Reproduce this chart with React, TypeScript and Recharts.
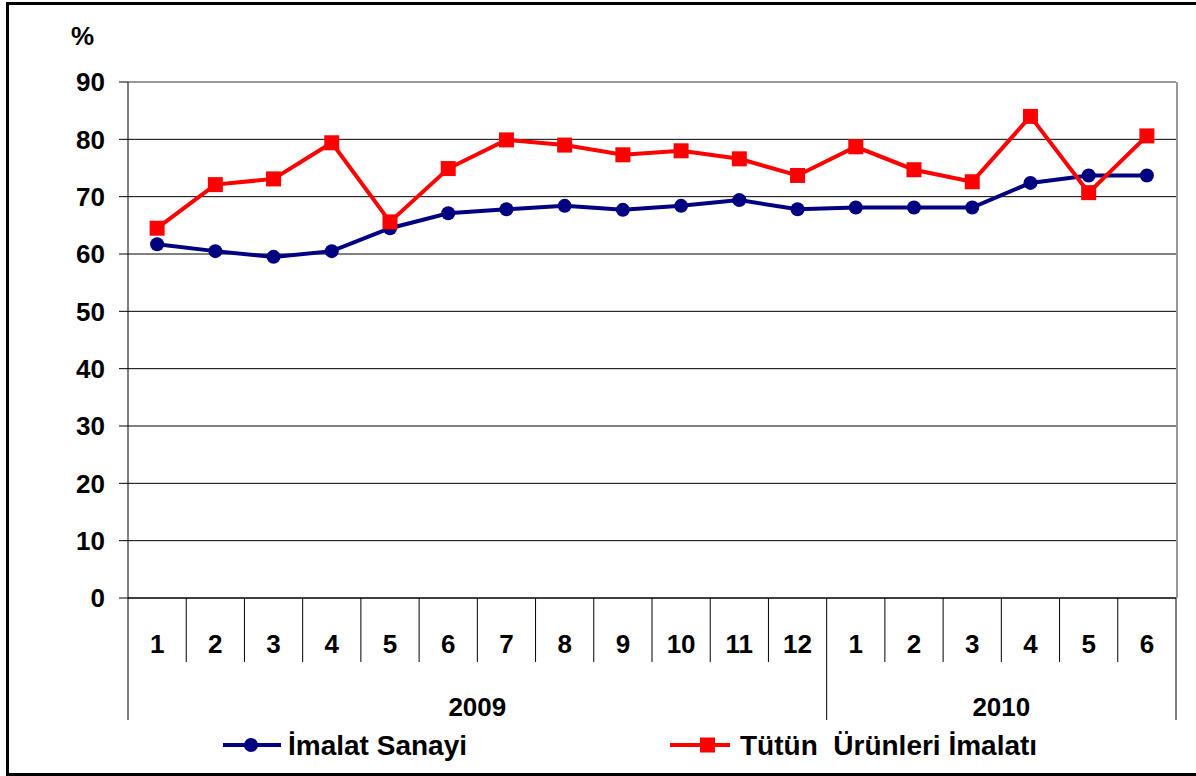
import { CartesianGrid, Label, Legend, Line, LineChart, ReferenceLine, XAxis, YAxis } from "recharts";

const months = ["1", "2", "3", "4", "5", "6", "7", "8", "9", "10", "11", "12", "1", "2", "3", "4", "5", "6"];
const years = ["2009", "2010"];
const yearCounts = [12, 6];
const imalat = [61.7, 60.5, 59.5, 60.5, 64.5, 67.1, 67.8, 68.4, 67.7, 68.4, 69.4, 67.8, 68.1, 68.1, 68.1, 72.4, 73.7, 73.7];
const tutun = [64.5, 72.1, 73.1, 79.4, 65.6, 74.9, 79.9, 79.0, 77.3, 78.0, 76.6, 73.7, 78.7, 74.7, 72.6, 84.0, 70.7, 80.6];
const yTicks = [0, 10, 20, 30, 40, 50, 60, 70, 80, 90];

const data = months.map((m, i) => ({ idx: i, month: m, imalat: imalat[i], tutun: tutun[i] }));

const FONT = '"Liberation Sans", Arial, sans-serif';
const BLUE = "#000080";
const RED = "#ff0000";
const PLOT_TOP = 82;
const HALF = 1048 / 18 / 2;

// where each year group starts/ends
const yearStarts = yearCounts.map((_, k) => yearCounts.slice(0, k).reduce((a, b) => a + b, 0));
const yearEnds = yearStarts.map((s, k) => s + yearCounts[k] - 1);

const MonthTick = (props: any) => {
  const { x, y, payload } = props;
  const i = props.index ?? payload.index;
  const half = HALF;
  const last = i === months.length - 1;
  return (
    <g>
      <text x={x} y={y + 55} textAnchor="middle" fill="#000" fontSize={26} fontWeight="bold" fontFamily={FONT}>
        {months[i]}
      </text>
      {!yearEnds.includes(i) && <line x1={x + half} x2={x + half} y1={y} y2={y + 64} stroke="#000" />}
      {last && <line x1={x + half + 1} x2={x + half + 1} y1={PLOT_TOP} y2={y} stroke="#999" strokeWidth={2} />}
    </g>
  );
};

const YearTick = (props: any) => {
  const { x, y, payload } = props;
  const i = props.index ?? payload.index;
  const half = HALF;
  const out: any[] = [];
  if (i === 0) out.push(<line key="s" x1={x - half} x2={x - half} y1={y - 64} y2={y + 58} stroke="#000" />);
  if (yearEnds.includes(i)) out.push(<line key="e" x1={x + half} x2={x + half} y1={y - 64} y2={y + 58} stroke="#000" />);
  years.forEach((yr, k) => {
    const mid = (yearCounts[k] - 1) / 2;
    const at = yearStarts[k] + Math.floor(mid);
    if (at === i) {
      const shift = (mid - Math.floor(mid)) * 2 * half;
      out.push(
        <text key={yr} x={x + shift} y={y + 54} textAnchor="middle" fill="#000" fontSize={26} fontWeight="bold" fontFamily={FONT}>
          {yr}
        </text>
      );
    }
  });
  return <g>{out}</g>;
};

const Square = (props: any) => {
  const { cx, cy, index } = props;
  return <rect key={`sq-${index}`} x={cx - 7.5} y={cy - 7.5} width={15} height={15} fill={RED} />;
};

const LegendBox = () => (
  <svg width={1196} height={40} style={{ display: "block" }}>
    <line x1={223} x2={281} y1={20} y2={20} stroke={BLUE} strokeWidth={4} />
    <circle cx={251} cy={20} r={7} fill={BLUE} />
    <text x={288} y={30} fill="#000" fontSize={28} fontWeight="bold" fontFamily={FONT}>
      İmalat Sanayi
    </text>
    <line x1={670} x2={730} y1={20} y2={20} stroke={RED} strokeWidth={4} />
    <rect x={700} y={12.5} width={15} height={15} fill={RED} />
    <text x={740} y={30} fill="#000" fontSize={28} fontWeight="bold" fontFamily={FONT} style={{ whiteSpace: "pre" }}>
      {"Tütün  Ürünleri İmalatı"}
    </text>
  </svg>
);

export default function App() {
  return (
    <div style={{ position: "absolute", left: 0, top: 0, width: 1196, height: 776, overflow: "hidden", background: "#fff" }}>
      <div
        style={{
          position: "absolute",
          left: 6,
          top: 2,
          width: 1210,
          height: 774,
          border: "3px solid #000",
          boxSizing: "border-box",
        }}
      />
      <div style={{ position: "absolute", left: 0, top: 0 }}>
        <LineChart width={1196} height={776} data={data} margin={{ top: PLOT_TOP, right: 20, left: 68, bottom: 58 }}>
          <CartesianGrid horizontal vertical={false} stroke="#000" strokeOpacity={1} />
          <ReferenceLine y={90} stroke="#999" strokeWidth={2} />
          <XAxis
            dataKey="idx"
            scale="band"
            interval={0}
            height={64}
            tickLine={false}
            tickSize={0}
            tickMargin={0}
            axisLine={{ stroke: "#000" }}
            tick={<MonthTick />}
          />
          <XAxis
            xAxisId="year"
            dataKey="idx"
            scale="band"
            interval={0}
            height={56}
            tickLine={false}
            tickSize={0}
            tickMargin={0}
            axisLine={false}
            tick={<YearTick />}
          />
          <YAxis
            width={60}
            domain={[0, 90]}
            ticks={yTicks}
            interval={0}
            tickSize={9}
            tickMargin={14}
            axisLine={{ stroke: "#000" }}
            tickLine={{ stroke: "#000" }}
            tick={{ fill: "#000", fontSize: 26, fontWeight: "bold", fontFamily: FONT }}
          >
            <Label
              content={() => (
                <text x={71} y={45} fill="#000" fontSize={26} fontWeight="bold" fontFamily={FONT}>
                  %
                </text>
              )}
            />
          </YAxis>
          <Legend
            layout="horizontal"
            verticalAlign="middle"
            align="center"
            wrapperStyle={{ top: 725, left: 0, width: 1196 }}
            content={() => <LegendBox />}
          />
          <Line
            dataKey="imalat"
            name="İmalat Sanayi"
            stroke={BLUE}
            strokeWidth={4}
            dot={{ r: 7, fill: BLUE, stroke: BLUE, strokeWidth: 0 }}
            isAnimationActive={false}
          />
          <Line
            dataKey="tutun"
            name="Tütün  Ürünleri İmalatı"
            stroke={RED}
            strokeWidth={4}
            dot={<Square />}
            isAnimationActive={false}
          />
        </LineChart>
      </div>
    </div>
  );
}
